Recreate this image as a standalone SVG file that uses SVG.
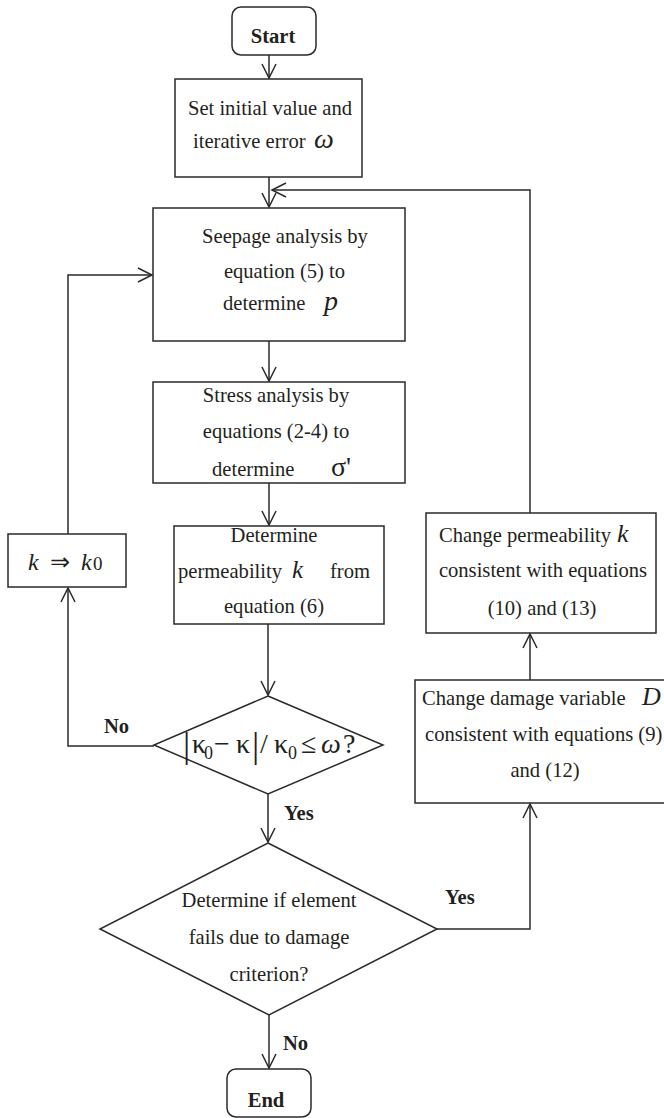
<svg xmlns="http://www.w3.org/2000/svg" width="664" height="1118" viewBox="0 0 664 1118">
<style>
.box{fill:#fff;stroke:#2a2a2a;stroke-width:1.5}
.ln{fill:none;stroke:#2a2a2a;stroke-width:1.5}
text{font-family:"Liberation Serif","Times New Roman",serif;font-size:20.6px;fill:#231f20}
.m{text-anchor:middle}
.b{font-weight:bold}
.it{font-style:italic}
</style>
<defs>
<marker id="arr" markerUnits="userSpaceOnUse" markerWidth="20" markerHeight="16" viewBox="0 0 20 16" refX="15" refY="8" orient="auto">
<path d="M1,1 L15,8 L1,15" fill="none" stroke="#2a2a2a" stroke-width="1.5"/>
</marker>
</defs>
<g id="connectors">
<path class="ln" d="M269,55 V78" marker-end="url(#arr)"/>
<path class="ln" d="M269,177 V207" marker-end="url(#arr)"/>
<path class="ln" d="M530,513 V190 H272" marker-end="url(#arr)"/>
<path class="ln" d="M269,341 V381" marker-end="url(#arr)"/>
<path class="ln" d="M269,483 V525" marker-end="url(#arr)"/>
<path class="ln" d="M268,624 V695" marker-end="url(#arr)"/>
<path class="ln" d="M154,746 H68 V588" marker-end="url(#arr)"/>
<path class="ln" d="M68,534 V275 H152" marker-end="url(#arr)"/>
<path class="ln" d="M268,794 V842" marker-end="url(#arr)"/>
<path class="ln" d="M269,1015 V1068" marker-end="url(#arr)"/>
<path class="ln" d="M437,929 H530 V804" marker-end="url(#arr)"/>
<path class="ln" d="M530,680 V634" marker-end="url(#arr)"/>
<text class="b" x="104" y="733">No</text>
<text class="b" x="284" y="820">Yes</text>
<text class="b" x="445" y="904">Yes</text>
<text class="b" x="283" y="1050">No</text>
</g>
<g id="start">
<rect class="box" x="232" y="7" width="84" height="48" rx="9"/>
<text class="m b" x="273" y="43">Start</text>
</g>
<g id="init">
<rect class="box" x="175" y="79" width="187" height="98"/>
<text class="m" x="270" y="115">Set initial value and</text>
<text x="193" y="148">iterative error</text>
<text class="it" x="314" y="148" style="font-size:28px">ω</text>
</g>
<g id="seepage">
<rect class="box" x="153" y="208" width="252" height="133"/>
<text class="m" x="285" y="243">Seepage analysis by</text>
<text class="m" x="284.5" y="278">equation (5) to</text>
<text x="223" y="310">determine</text>
<text class="it" x="324" y="310" style="font-size:28px">p</text>
</g>
<g id="stress">
<rect class="box" x="153" y="382" width="252" height="101"/>
<text class="m" x="276" y="402">Stress analysis by</text>
<text class="m" x="276" y="438">equations (2-4) to</text>
<text x="212" y="476">determine</text>
<text x="331" y="476" style="font-size:28px">σ'</text>
</g>
<g id="determine">
<rect class="box" x="174" y="526" width="210" height="98"/>
<text class="m" x="274" y="542">Determine</text>
<text x="178" y="578">permeability</text>
<text class="it" x="292" y="578" style="font-size:25px">k</text>
<text x="330" y="578">from</text>
<text class="m" x="274" y="613">equation (6)</text>
</g>
<g id="update">
<rect class="box" x="8" y="534" width="118" height="53"/>
<text x="28" y="570" style="font-size:24px"><tspan class="it">k</tspan><tspan x="50">⇒</tspan><tspan class="it" x="81">k</tspan><tspan x="93" style="font-size:19px">0</tspan></text>
</g>
<g id="check">
<path class="box" d="M268,696 L383,745 L268,794 L154,745 Z"/>
<text y="753" style="font-size:28px"><tspan x="183" y="757" style="font-size:36px">|</tspan><tspan x="192" y="753">κ</tspan><tspan x="204" y="759" style="font-size:18px">0</tspan><tspan x="214" y="753">−</tspan><tspan x="236">κ</tspan><tspan x="252" y="757" style="font-size:36px">|</tspan><tspan x="260" y="753">/</tspan><tspan x="274">κ</tspan><tspan x="288" y="759" style="font-size:18px">0</tspan><tspan x="301" y="753">≤</tspan><tspan x="321" class="it">ω</tspan><tspan x="343">?</tspan></text>
</g>
<g id="fails">
<path class="box" d="M268,843 L437,929 L269,1015 L100,929 Z"/>
<text class="m" x="269" y="907">Determine if element</text>
<text class="m" x="269" y="944">fails due to damage</text>
<text class="m" x="269" y="981">criterion?</text>
</g>
<g id="perm">
<rect class="box" x="426" y="513" width="230" height="120"/>
<text x="439" y="542">Change permeability</text>
<text class="it" x="617" y="542" style="font-size:26px">k</text>
<text class="m" x="543" y="577">consistent with equations</text>
<text class="m" x="542" y="615">(10) and (13)</text>
</g>
<g id="damage">
<rect class="box" x="415" y="680" width="260" height="123"/>
<text x="422" y="705">Change damage variable</text>
<text class="it" x="642" y="705" style="font-size:26px">D</text>
<text x="425" y="741">consistent with equations (9)</text>
<text class="m" x="545" y="777">and (12)</text>
</g>
<g id="end">
<rect class="box" x="227" y="1069" width="84" height="48" rx="9"/>
<text class="m b" x="266" y="1107">End</text>
</g>
</svg>
